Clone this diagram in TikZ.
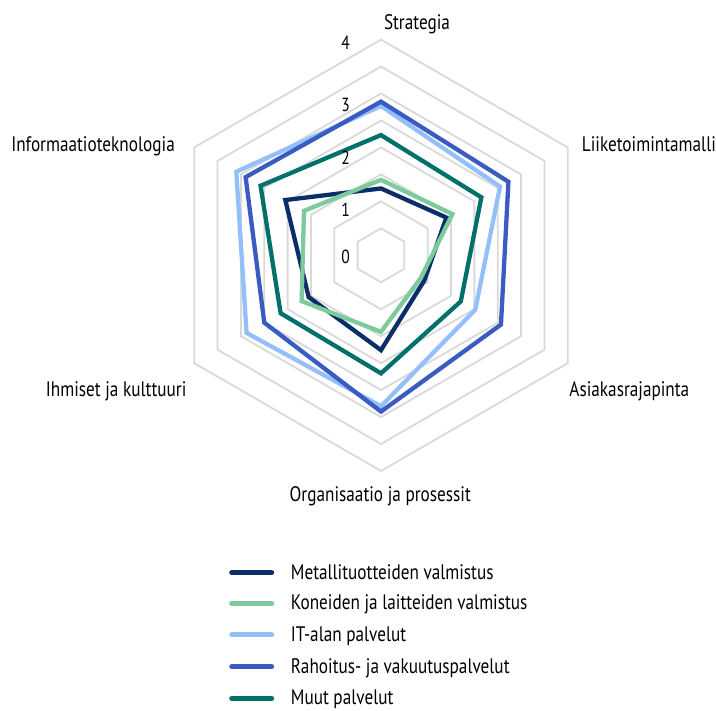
\documentclass[tikz,border=0pt]{standalone}
\usepackage{fontspec}
\setmainfont[FakeStretch=0.82]{PT Sans}
\definecolor{navy}{HTML}{0B2E6B}
\definecolor{lgreen}{HTML}{7DCB9C}
\definecolor{lblue}{HTML}{93C0FB}
\definecolor{rblue}{HTML}{3A5CC2}
\definecolor{tealc}{HTML}{00706B}
\definecolor{gridc}{HTML}{D9D9D9}
\begin{document}
\begin{tikzpicture}[x=1pt,y=1pt,
  lbl/.style={font=\fontsize{21}{25}\selectfont, inner sep=0pt, text=black},
  num/.style={font=\fontsize{19}{23}\selectfont, inner sep=0pt, text=black, anchor=base east},
  ser/.style={line width=4.3pt, line join=miter},
  gridl/.style={draw=gridc, line width=1.8pt},
  legl/.style={line width=5pt, line cap=round}]
\useasboundingbox (-381,-455.7) rectangle (335,255.3);
\def\u{53.9}
\def\g{26.96}
% grid
\foreach \k in {1,...,8}
  \draw[gridl] (90:{\g*\k}) -- (30:{\g*\k}) -- (-30:{\g*\k}) -- (-90:{\g*\k}) -- (210:{\g*\k}) -- (150:{\g*\k}) -- cycle;
% series
\draw[ser, navy] (90:{1.24*\u}) -- (30:{1.4*\u}) -- (-30:{0.93*\u}) -- (-90:{1.76*\u}) -- (210:{1.55*\u}) -- (150:{2.05*\u}) -- cycle;
\draw[ser, lgreen] (90:{1.40*\u}) -- (30:{1.53*\u}) -- (-30:{0.85*\u}) -- (-90:{1.42*\u}) -- (210:{1.70*\u}) -- (150:{1.65*\u}) -- cycle;
\draw[ser, lblue] (90:{2.77*\u}) -- (30:{2.55*\u}) -- (-30:{2.02*\u}) -- (-90:{2.80*\u}) -- (210:{2.88*\u}) -- (150:{3.10*\u}) -- cycle;
\draw[ser, rblue] (90:{2.85*\u}) -- (30:{2.73*\u}) -- (-30:{2.57*\u}) -- (-90:{2.90*\u}) -- (210:{2.50*\u}) -- (150:{2.90*\u}) -- cycle;
\draw[ser, tealc] (90:{2.23*\u}) -- (30:{2.15*\u}) -- (-30:{1.71*\u}) -- (-90:{2.19*\u}) -- (210:{2.15*\u}) -- (150:{2.58*\u}) -- cycle;
% axis numbers
\node[num] (n4) at (-31,205.3) {4};
\node[num] (n3) at (-31,143.6) {3};
\node[num] (n2) at (-31,90.3) {2};
\node[num] (n1) at (-31,38.6) {1};
\node[num] (n0) at (-31,-8) {0};
% category labels
\node[lbl, anchor=base] (strat) at (36,225.8) {Strategia};
\node[lbl, anchor=base west] (liike) at (200.7,103.6) {Liiketoimintamalli};
\node[lbl, anchor=base west] (asiak) at (188.3,-141.7) {Asiakasrajapinta};
\node[lbl, anchor=base] (org) at (-0.7,-246.7) {Organisaatio ja prosessit};
\node[lbl, anchor=base east] (ihm) at (-194.4,-141.7) {Ihmiset ja kulttuuri};
\node[lbl, anchor=base east] (info) at (-206,103.6) {Informaatioteknologia};
% legend
\coordinate (la1) at (-149.3,-317.4); \coordinate (lb1) at (-109.3,-317.4);
\coordinate (la2) at (-149.3,-348.0); \coordinate (lb2) at (-109.3,-348.0);
\coordinate (la3) at (-149.3,-379.7); \coordinate (lb3) at (-109.3,-379.7);
\coordinate (la4) at (-149.3,-411.4); \coordinate (lb4) at (-109.3,-411.4);
\coordinate (la5) at (-149.3,-443.0); \coordinate (lb5) at (-109.3,-443.0);
\draw[legl, navy] (la1) -- (lb1);
\draw[legl, lgreen] (la2) -- (lb2);
\draw[legl, lblue] (la3) -- (lb3);
\draw[legl, rblue] (la4) -- (lb4);
\draw[legl, tealc] (la5) -- (lb5);
\node[lbl, anchor=base west] (t1) at (-90.3,-324.1) {Metallituotteiden valmistus};
\node[lbl, anchor=base west] (t2) at (-90.3,-354.7) {Koneiden ja laitteiden valmistus};
\node[lbl, anchor=base west] (t3) at (-90.3,-386.4) {IT-alan palvelut};
\node[lbl, anchor=base west] (t4) at (-90.3,-418.1) {Rahoitus- ja vakuutuspalvelut};
\node[lbl, anchor=base west] (t5) at (-90.3,-449.7) {Muut palvelut};
\end{tikzpicture}
\end{document}
